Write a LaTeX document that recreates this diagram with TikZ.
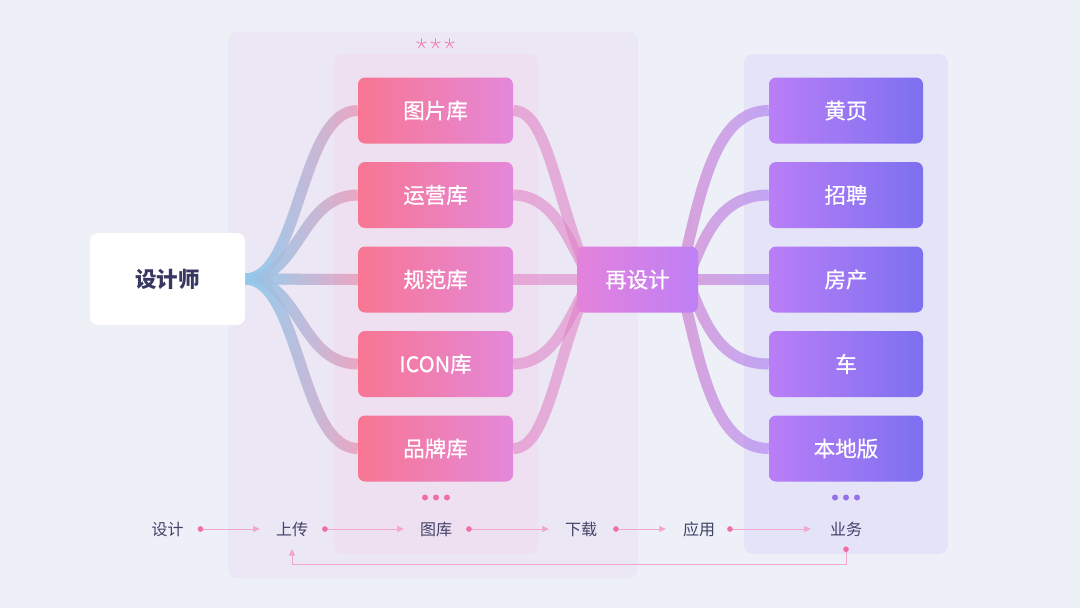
\documentclass[tikz,border=0pt]{standalone}
\usepackage{fontspec}
\setmainfont{Noto Sans CJK SC}
\newfontfamily\cjkmed{Noto Sans CJK SC}[FakeBold=0.6]
\usetikzlibrary{arrows.meta,fadings,calc}
\pgfdeclarelayer{bglayer}
\pgfdeclarelayer{bandlayer}
\pgfsetlayers{bglayer,bandlayer,main}
\definecolor{bgc}{RGB}{238,240,248}
\definecolor{panelA}{RGB}{235,231,245}
\definecolor{panelB}{RGB}{238,224,240}
\definecolor{panelC}{RGB}{229,227,248}
\definecolor{libL}{RGB}{248,118,146}
\definecolor{libR}{RGB}{228,136,218}
\definecolor{redL}{RGB}{228,130,220}
\definecolor{redR}{RGB}{190,128,246}
\definecolor{bizL}{RGB}{186,126,247}
\definecolor{bizR}{RGB}{124,112,240}
\definecolor{txtdark}{RGB}{55,55,98}
\definecolor{txtrow}{RGB}{66,66,105}
\definecolor{pinkband}{RGB}{240,118,156}
\definecolor{blueband}{RGB}{135,212,246}
\definecolor{midband}{RGB}{224,125,195}
\definecolor{purpband}{RGB}{168,124,245}
\definecolor{pinkover}{RGB}{222,160,212}
\definecolor{arrowc}{RGB}{242,165,205}
\definecolor{dotc}{RGB}{238,110,165}
\definecolor{dotp}{RGB}{150,110,240}
\definecolor{starc}{RGB}{240,130,185}
\tikzfading[name=fadeoutright, left color=transparent!0, right color=transparent!100]
\begin{document}
\begin{tikzpicture}[x=1pt,y=-1pt,
  panel/.style={rounded corners=9pt},
  band/.style={line width=11pt},
  boxtext/.style={text=white, font=\cjkmed\fontsize{21.5}{26}\selectfont},
  libnode/.style={rectangle, rounded corners=7pt, minimum width=155pt, minimum height=66pt, inner sep=0pt,
    left color=libL, right color=libR, boxtext},
  renode/.style={rectangle, rounded corners=7pt, minimum width=121pt, minimum height=66pt, inner sep=0pt,
    left color=redL, right color=redR, boxtext},
  biznode/.style={rectangle, rounded corners=7pt, minimum width=154pt, minimum height=66pt, inner sep=0pt,
    left color=bizL, right color=bizR, boxtext},
  desnode/.style={rectangle, rounded corners=8pt, minimum width=155pt, minimum height=92pt, inner sep=0pt,
    fill=white, text=txtdark, font=\fontsize{21.5}{26}\selectfont\bfseries},
  rowtext/.style={inner sep=0pt, text=txtrow, font=\fontsize{16}{19}\selectfont},
  flowarrow/.style={draw=arrowc, line width=0.7pt,
    {Circle[length=5.5pt,color=dotc]}-{Triangle[length=6.5pt,width=6pt,color=arrowc]}}
]
% background and panels
\begin{pgfonlayer}{bglayer}
\fill[bgc] (0,0) rectangle (1080,608);
\fill[panelA, panel] (228,32) rectangle (638,578);
\fill[panelB, panel] (334,54) rectangle (538,554);
\fill[panelC, panel] (744,54) rectangle (948,554);
\end{pgfonlayer}
\useasboundingbox (0,0) rectangle (1080,608);

% stars
\foreach \sx in {421.5,435.5,449.5}{
  \foreach \a in {-90,-18,54,126,198}
    \draw[starc, line width=0.9pt, line cap=round] (\sx,43.5) -- ++(\a:5);
}

% nodes
\node[desnode] (des) at (167.5,279) {设计师};
\node[libnode] (lib1) at (435.5,110.5) {图片库};
\node[libnode] (lib2) at (435.5,195) {运营库};
\node[libnode] (lib3) at (435.5,279.5) {规范库};
\node[libnode] (lib4) at (435.5,364) {ICON库};
\node[libnode] (lib5) at (435.5,448.5) {品牌库};
\node[renode] (re) at (637.5,279.5) {再设计};
\node[biznode] (biz1) at (846,110.5) {黄页};
\node[biznode] (biz2) at (846,195) {招聘};
\node[biznode] (biz3) at (846,279.5) {房产};
\node[biznode] (biz4) at (846,364) {车};
\node[biznode] (biz5) at (846,448.5) {本地版};

\coordinate (reInL) at ($(re.center)+(-47,0)$);
\coordinate (reInR) at ($(re.center)+(42,0)$);
\coordinate (reInR2) at ($(re.center)+(50,0)$);

\begin{pgfonlayer}{bandlayer}
% left fan
\foreach \n in {lib1,lib2,lib4,lib5}{
  \draw[band, pinkband, opacity=0.55] (des.east) .. controls +(55,0) and +(-58,0) .. (\n.west);
}
\draw[band, pinkband, opacity=0.55] (des.east) -- (lib3.west);
\draw[band, blueband, opacity=0.95, path fading=fadeoutright]
  (des.east) .. controls +(55,0) and +(-58,0) .. (lib1.west)
  (des.east) .. controls +(55,0) and +(-58,0) .. (lib2.west)
  (des.east) -- (lib3.west)
  (des.east) .. controls +(55,0) and +(-58,0) .. (lib4.west)
  (des.east) .. controls +(55,0) and +(-58,0) .. (lib5.west);

% middle fan
\draw[band, midband, opacity=0.55] (lib1.east) .. controls +(35,0) and +(-35,-79) .. (reInL);
\draw[band, midband, opacity=0.55] (lib2.east) .. controls +(42,0) and +(-20,-34) .. (reInL);
\draw[band, midband, opacity=0.55] (lib3.east) -- (re.west);
\draw[band, midband, opacity=0.55] (lib4.east) .. controls +(42,0) and +(-20,34) .. (reInL);
\draw[band, midband, opacity=0.55] (lib5.east) .. controls +(35,0) and +(-35,79) .. (reInL);

% right fan
\draw[band, purpband, opacity=0.6] (reInR) .. controls +(20,-79) and +(-57,0) .. (biz1.west);
\draw[band, purpband, opacity=0.6] (reInR2) .. controls +(17,-44) and +(-49,0) .. (biz2.west);
\draw[band, purpband, opacity=0.6] (re.east) -- (biz3.west);
\draw[band, purpband, opacity=0.6] (reInR2) .. controls +(17,44) and +(-49,0) .. (biz4.west);
\draw[band, purpband, opacity=0.6] (reInR) .. controls +(20,79) and +(-57,0) .. (biz5.west);
\draw[band, pinkover, opacity=0.85, path fading=fadeoutright]
  (reInR) .. controls +(20,-79) and +(-57,0) .. (biz1.west)
  (reInR2) .. controls +(17,-44) and +(-49,0) .. (biz2.west)
  (re.east) -- (biz3.west)
  (reInR2) .. controls +(17,44) and +(-49,0) .. (biz4.west)
  (reInR) .. controls +(20,79) and +(-57,0) .. (biz5.west);
\end{pgfonlayer}

% dots
\foreach \dx in {425,436,447} \fill[dotc] (\dx,497.5) circle (3);
\foreach \dx in {835,846,857} \fill[dotp] (\dx,497.5) circle (3);

% flow row
\node[rowtext] (t1) at (167.5,529) {设计};
\node[rowtext] (t2) at (292,529) {上传};
\node[rowtext] (t3) at (436,529) {图库};
\node[rowtext] (t4) at (581,529) {下载};
\node[rowtext] (t5) at (699,529) {应用};
\node[rowtext] (t6) at (846,529) {业务};
\coordinate (retrow) at (0,549);

\draw[flowarrow] ([xshift=14pt]t1.east) -- ([xshift=-16pt]t2.west);
\draw[flowarrow] ([xshift=14pt]t2.east) -- ([xshift=-16pt]t3.west);
\draw[flowarrow] ([xshift=14pt]t3.east) -- ([xshift=-16pt]t4.west);
\draw[flowarrow] ([xshift=16pt]t4.east) -- ([xshift=-17pt]t5.west);
\draw[flowarrow] ([xshift=12pt]t5.east) -- ([xshift=-19pt]t6.west);
\draw[flowarrow] ([yshift=2.5pt]t6.center |- retrow) -- ++(0,18) -| (t2.center |- retrow);
\end{tikzpicture}
\end{document}
